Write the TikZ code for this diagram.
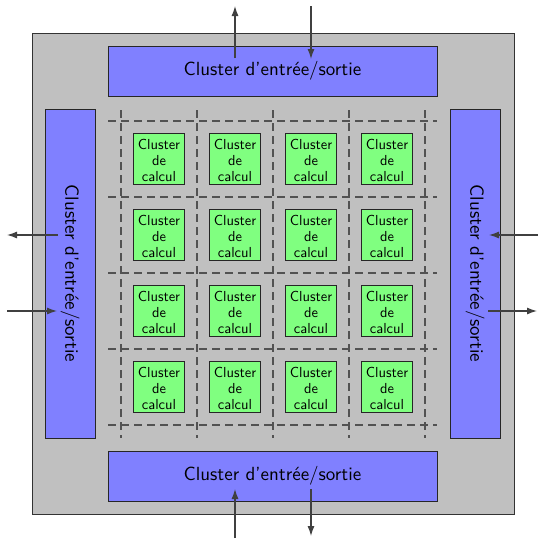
\documentclass[tikz,border=0pt]{standalone}
\usepackage{graphicx}
\usetikzlibrary{arrows.meta}
\newcommand\iotext{\scalebox{1.9}{\sffamily\normalsize Cluster d'entr\'ee/sortie}}
\newcommand\calctext{\raisebox{-3pt}[\height][\depth]{\scalebox{1.45}{\sffamily\normalsize\renewcommand\arraystretch{0.92}\begin{tabular}{@{}c@{}}Cluster\\de\\calcul\end{tabular}}}}
\begin{document}
\begin{tikzpicture}[x=1pt,y=-1pt,
  iobox/.style={draw=black!85,line width=1pt,fill={rgb,255:red,128;green,128;blue,255},inner sep=0pt},
  calc/.style={draw=black!85,line width=1pt,fill={rgb,255:red,128;green,255;blue,128},minimum width=51pt,minimum height=51pt,inner sep=0pt,align=center},
  gridline/.style={draw=black!68,line width=1.3pt,dash pattern=on 7.5pt off 5.5pt},
  arr/.style={draw=black!75,line width=1.2pt,-{Latex[length=10pt,width=7pt]}}]
\useasboundingbox (0,0) rectangle (540,539);
\node[draw=black!80,line width=1pt,fill={rgb,255:red,192;green,192;blue,192},minimum width=482pt,minimum height=481pt,inner sep=0pt] (outer) at (273,273.5) {};
\node[iobox,minimum width=329pt,minimum height=50pt] (top) at (272.5,71) {\iotext};
\node[iobox,minimum width=329pt,minimum height=50pt] (bot) at (272.5,476) {\iotext};
\node[iobox,minimum width=329pt,minimum height=50pt,rotate=-90] (left) at (70,273.5) {\iotext};
\node[iobox,minimum width=329pt,minimum height=50pt,rotate=-90] (right) at (475,273.5) {\iotext};
\foreach \v in {121,197,273,349,425}{
  \draw[gridline] (108,\v) -- (437,\v);
  \draw[gridline] (\v,110) -- (\v,438);
}
\foreach \i/\x in {1/159,2/235,3/311,4/387}{
  \foreach \j/\y in {1/159,2/235,3/311,4/387}{
    \node[calc] (c\i\j) at (\x,\y) {\calctext};
  }
}
\coordinate (tua) at (235,58); \coordinate (tub) at (235,6);
\coordinate (tda) at (311,6); \coordinate (tdb) at (311,59);
\coordinate (bua) at (235,538); \coordinate (bub) at (235,489);
\coordinate (bda) at (311,489); \coordinate (bdb) at (311,536);
\coordinate (lla) at (58,235); \coordinate (llb) at (7,235);
\coordinate (lra) at (7,311); \coordinate (lrb) at (57,311);
\coordinate (rla) at (538,235); \coordinate (rlb) at (489,235);
\coordinate (rra) at (488,311); \coordinate (rrb) at (537,311);
\draw[arr] (tua) -- (tub);
\draw[arr] (tda) -- (tdb);
\draw[arr] (bua) -- (bub);
\draw[arr] (bda) -- (bdb);
\draw[arr] (lla) -- (llb);
\draw[arr] (lra) -- (lrb);
\draw[arr] (rla) -- (rlb);
\draw[arr] (rra) -- (rrb);
\end{tikzpicture}
\end{document}
